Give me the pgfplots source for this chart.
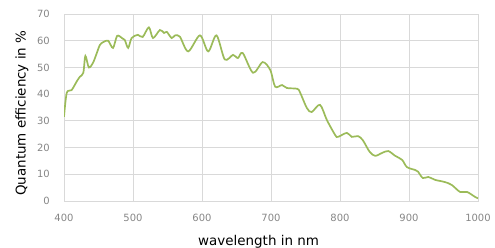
\documentclass[border=0pt]{standalone}
\usepackage{pgfplots}
\pgfplotsset{compat=1.18}
\usepackage{fontspec}
\setmainfont{DejaVu Sans}
\definecolor{qe}{RGB}{155,187,89}
\definecolor{gridc}{RGB}{217,217,217}
\definecolor{tickc}{RGB}{134,134,134}
\begin{document}
\begin{tikzpicture}
\useasboundingbox (-64bp,-47bp) rectangle (431bp,201bp);
\begin{axis}[
  at={(0,0)}, anchor=south west,
  scale only axis,
  width=414bp, height=187bp,
  xmin=400, xmax=1000, ymin=0, ymax=70,
  xtick={400,500,...,1000}, ytick={0,10,...,70},
  grid=major,
  major grid style={gridc, line width=0.8pt},
  axis line style={gridc, line width=0.8pt},
  tick style={draw=none},
  ticklabel style={font=\fontsize{10}{12}\selectfont, text=tickc, inner sep=0pt},
  /pgf/number format/assume math mode=true,
  /pgf/number format/1000 sep={},
  xticklabel style={anchor=center, yshift=-17bp},
  yticklabel style={anchor=east, xshift=-14bp},
  xlabel={wavelength in nm},
  ylabel={Quantum efficiency in \%},
  label style={font=\fontsize{13.5}{15}\selectfont},
  xlabel style={at={(axis description cs:0.47,-0.219)}, anchor=center},
  ylabel style={at={(axis description cs:-0.1014,0.47)}, anchor=center},
]
\addplot[qe, line width=1.7pt, smooth, tension=0.5] coordinates {
(400,31.5) (404,40.5) (411,41.5) (419,45) (423,46.5) (428,48) (431,54.3)
(436,50) (442,51.7) (447,55) (452,58.4) (457,59.5) (464,60) (471,57.3)
(477,61.8) (484,61) (488,60.3) (493,57.3) (498,61) (507,62.2) (514,61.4)
(523,65) (529,61) (539,64) (545,62.9) (549,63.3) (556,61) (561,62)
(568,61.5) (580,56) (597,62) (609,56) (621,62) (633,53) (645,54.7)
(652,53.5) (659,55.4) (674,48) (688,52) (699,49) (706,42.8) (716,43.4)
(723,42.3) (738,42) (742,40.7) (752,34.8) (759,33.3) (771,36) (781,30.3)
(793,24.7) (797,24) (810,25.5) (817,24) (826,24.3) (833,22.8) (843,18.4)
(851,16.9) (861,18) (870,18.7) (880,16.9) (890,15.4) (897,12.7) (909,11.6)
(913,11) (920,8.6) (928,9) (938,7.9) (952,7.1) (962,6) (974,3.4)
(984,3.4) (996,1.5) (1000,1)
};
\end{axis}
\end{tikzpicture}
\end{document}
